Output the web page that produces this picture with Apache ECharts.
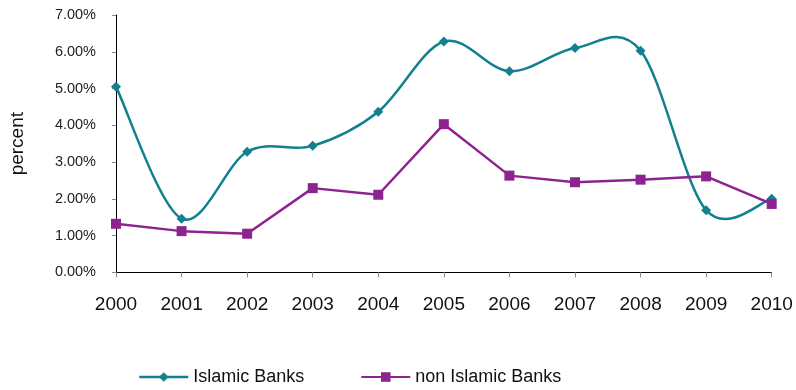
<!DOCTYPE html>
<html><head><meta charset="utf-8">
<script src="https://cdn.jsdelivr.net/npm/echarts@6/dist/echarts.min.js"></script>
<style>html,body{margin:0;padding:0;background:#fff}#c{width:796px;height:390px}</style>
</head><body><div id="c"></div>
<script>
const years = ['2000','2001','2002','2003','2004','2005','2006','2007','2008','2009','2010'];
const islamic = [5.05, 1.46, 3.28, 3.44, 4.37, 6.28, 5.47, 6.10, 6.03, 1.69, 2.00];
const nonIslamic = [1.32, 1.12, 1.05, 2.29, 2.11, 4.03, 2.63, 2.45, 2.52, 2.61, 1.86];
const seriesNames = ['Islamic Banks', 'non Islamic Banks'];

const TEAL = '#12808F';
const PURPLE = '#8D2390';
const font = 'Liberation Sans, Arial, sans-serif';

const chart = echarts.init(document.getElementById('c'));

// Excel-like smoothed curve (Catmull-Rom -> Bezier), positioned via the axis scales
function smoothSegment(params, api) {
  const i = params.dataIndex;
  const n = islamic.length;
  if (i >= n - 1) return null;
  const P = k => {
    const j = Math.max(0, Math.min(n - 1, k));
    return api.coord([j, islamic[j]]);
  };
  const p0 = P(i - 1), p1 = P(i), p2 = P(i + 1), p3 = P(i + 2);
  return {
    type: 'bezierCurve',
    shape: {
      x1: p1[0], y1: p1[1], x2: p2[0], y2: p2[1],
      cpx1: p1[0] + (p2[0] - p0[0]) / 6, cpy1: p1[1] + (p2[1] - p0[1]) / 6,
      cpx2: p2[0] - (p3[0] - p1[0]) / 6, cpy2: p2[1] - (p3[1] - p1[1]) / 6
    },
    style: {stroke: TEAL, lineWidth: 2.5, fill: null},
    silent: true
  };
}

chart.setOption({
  animation: false,
  grid: {left: 115.5, right: 24.3, top: 15, bottom: 117.7, containLabel: false},
  legend: {
    top: 368, left: 138, padding: 0,
    itemWidth: 49, itemHeight: 12, itemGap: 56,
    textStyle: {fontFamily: font, fontSize: 18, color: '#111'},
    data: [
      {name: seriesNames[0], lineStyle: {color: TEAL, width: 2.5, opacity: 1}},
      {name: seriesNames[1]}
    ]
  },
  xAxis: {
    type: 'category', data: years, boundaryGap: false,
    axisLine: {lineStyle: {color: '#000', width: 1}},
    axisTick: {show: true, length: 5, alignWithLabel: true, lineStyle: {color: '#888'}},
    axisLabel: {fontFamily: font, fontSize: 19, color: '#111', margin: 23}
  },
  yAxis: {
    type: 'value', min: 0, max: 7, interval: 1,
    name: 'percent', nameLocation: 'middle', nameGap: 89, nameRotate: 90,
    nameTextStyle: {fontFamily: font, fontSize: 19, color: '#111'},
    axisLine: {show: true, lineStyle: {color: '#000', width: 1}},
    axisTick: {show: true, length: 4, lineStyle: {color: '#888'}},
    splitLine: {show: false},
    axisLabel: {fontFamily: font, fontSize: 14.5, color: '#222', margin: 20,
      formatter: v => v.toFixed(2) + '%'}
  },
  series: [
    {
      name: 'Islamic curve', type: 'custom', renderItem: smoothSegment,
      data: islamic.map((v, i) => [i, v]), encode: {x: 0, y: 1}, z: 1
    },
    {
      name: seriesNames[0], type: 'line', data: islamic,
      symbol: 'diamond', symbolSize: 10, z: 2,
      lineStyle: {color: TEAL, width: 2.5, opacity: 0},
      itemStyle: {color: TEAL}
    },
    {
      name: seriesNames[1], type: 'line', data: nonIslamic, smooth: false,
      symbol: 'rect', symbolSize: 10, z: 3,
      lineStyle: {color: PURPLE, width: 2.5},
      itemStyle: {color: PURPLE}
    }
  ]
});
</script></body></html>
